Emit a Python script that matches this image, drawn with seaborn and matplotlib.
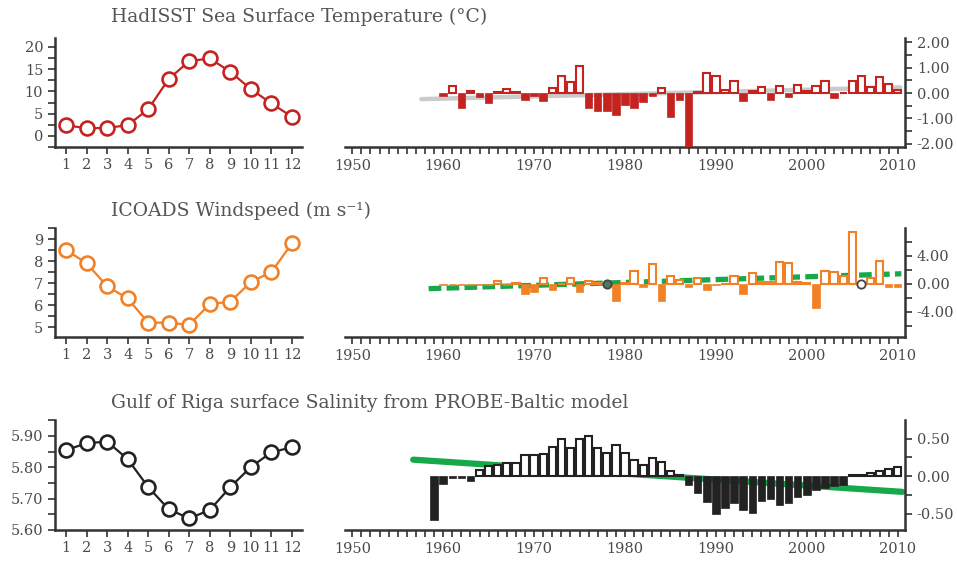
import numpy as np
import seaborn as sns
import matplotlib.pyplot as plt
from matplotlib.ticker import MultipleLocator, FormatStrFormatter, FixedLocator

# monthly climatologies
months = list(range(1, 13))
sst_month = [2.4, 1.7, 1.8, 2.4, 6.0, 12.8, 16.8, 17.4, 14.4, 10.5, 7.3, 4.3]
wind_month = [8.5, 7.9, 6.85, 6.3, 5.2, 5.2, 5.1, 6.05, 6.15, 7.05, 7.5, 8.8]
sal_month = [5.855, 5.877, 5.882, 5.826, 5.737, 5.666, 5.637, 5.664, 5.737, 5.801, 5.848, 5.864]

# yearly anomalies
sst_years = list(range(1960, 2011))
sst_anom = [-0.13, 0.26, -0.57, 0.07, -0.16, -0.40, 0.03, 0.17, 0.03, -0.26,
            -0.10, -0.33, 0.20, 0.68, 0.43, 1.07, -0.57, -0.72, -0.72, -0.86,
            -0.46, -0.57, -0.36, -0.13, 0.20, -0.95, -0.29, -2.20, 0.03, 0.79,
            0.68, 0.13, 0.49, -0.30, 0.09, 0.24, -0.26, 0.29, -0.17, 0.30,
            0.09, 0.29, 0.46, -0.20, 0.01, 0.46, 0.68, 0.24, 0.64, 0.37,
            0.10]
wind_years = list(range(1960, 2011))
wind_anom = [-0.1, -0.2, -0.1, -0.15, -0.1, -0.1, 0.4, -0.15, 0.2, -1.4,
             -1.1, 0.8, -0.9, 0.05, 0.9, -1.1, 0.45, 0.2, np.nan, -2.4,
             0.1, 1.8, -0.5, 2.9, -2.4, 1.2, 0.6, -0.45, 0.9, -0.9,
             -0.2, 0.05, 1.2, -1.4, 1.5, 0.3, 0.3, 3.2, 3.0, 0.3,
             0.2, -3.5, 1.8, 1.7, 1.1, 7.4, np.nan, 0.9, 3.3, -0.4,
             -0.4]
wind_missing = [1978, 2006]
sal_years = list(range(1959, 2011))
sal_anom = [-0.58, -0.10, -0.03, -0.03, -0.06, 0.08, 0.14, 0.15, 0.18, 0.18,
            0.28, 0.28, 0.29, 0.39, 0.50, 0.38, 0.50, 0.53, 0.38, 0.31,
            0.41, 0.31, 0.21, 0.15, 0.24, 0.19, 0.07, 0.01, -0.12, -0.22,
            -0.35, -0.51, -0.43, -0.36, -0.45, -0.49, -0.33, -0.31, -0.38, -0.36,
            -0.28, -0.25, -0.18, -0.16, -0.13, -0.12, 0.01, 0.02, 0.04, 0.07,
            0.09, 0.12]

# trend line end points
sst_trend_x, sst_trend_y = [1957.6, 2010.3], [-0.24, 0.22]
wind_trend_x, wind_trend_y = [1958.4, 2010.4], [-0.68, 1.45]
sal_trend_x, sal_trend_y = [1956.7, 2010.5], [0.22, -0.21]

titles = ["HadISST Sea Surface Temperature (°C)",
          "ICOADS Windspeed (m s⁻¹)",
          "Gulf of Riga surface Salinity from PROBE-Baltic model"]

sns.set_style("ticks")
plt.rcParams['font.family'] = ['DejaVu Serif']
plt.rcParams['axes.unicode_minus'] = False

red = "#c42320"
orange = "#f28025"
black = "#222222"
green = "#17a84b"
txt = "#4a4a4a"
spine = "#333333"

fig = plt.figure(figsize=(9.57, 5.62), dpi=100)
W, H = 957, 562


def box(x0, x1, ytop, ybot):
    return [x0 / W, 1 - ybot / H, (x1 - x0) / W, (ybot - ytop) / H]


def style(ax, sides):
    for s in ["left", "right", "top", "bottom"]:
        ax.spines[s].set_visible(s in sides)
        ax.spines[s].set_color(spine)
        ax.spines[s].set_linewidth(1.8)
    ax.tick_params(which="both", colors=spine, labelcolor=txt, labelsize=10.5,
                   width=1.2, length=5, direction="out")
    ax.set_xlabel("")
    ax.set_ylabel("")


def left_panel(ax, vals, c, ylim, major, minor, fmt):
    sns.lineplot(x=months, y=vals, ax=ax, color=c, linewidth=1.6, marker="o",
                 markersize=10, markerfacecolor="white", markeredgecolor=c,
                 markeredgewidth=1.9)
    ax.set_xlim(0.46, 12.49)
    ax.set_ylim(*ylim)
    ax.set_xticks(months)
    ax.yaxis.set_major_locator(MultipleLocator(major))
    ax.yaxis.set_minor_locator(MultipleLocator(minor))
    ax.yaxis.set_major_formatter(FormatStrFormatter(fmt))
    style(ax, ["left", "bottom"])
    ax.tick_params(axis="x", pad=3)


def right_panel(ax, years, vals, c, ylim, majors, minors):
    years = np.array(years)
    vals = np.array(vals, dtype=float)
    pos = vals >= 0
    neg = vals < 0
    sns.barplot(x=years[pos], y=vals[pos], native_scale=True, ax=ax,
                color="white", edgecolor=c, linewidth=1.5, saturation=1,
                width=0.8, errorbar=None, zorder=3)
    sns.barplot(x=years[neg], y=vals[neg], native_scale=True, ax=ax,
                color=c, edgecolor=c, linewidth=0.5, saturation=1,
                width=0.82, errorbar=None, zorder=3)
    ax.set_xlim(1949.2, 2010.8)
    ax.set_ylim(*ylim)
    ax.yaxis.tick_right()
    ax.xaxis.set_major_locator(FixedLocator(range(1950, 2011, 10)))
    ax.xaxis.set_minor_locator(MultipleLocator(1))
    ax.xaxis.set_major_formatter(FormatStrFormatter("%d"))
    ax.yaxis.set_major_locator(FixedLocator(majors))
    ax.yaxis.set_minor_locator(FixedLocator(minors))
    ax.yaxis.set_major_formatter(FormatStrFormatter("%.2f"))
    style(ax, ["right", "bottom"])


# row 1: SST
ax = fig.add_axes(box(55, 302, 38, 147))
left_panel(ax, sst_month, red, (-2.5, 22), 5, 2.5, "%d")
ax = fig.add_axes(box(345, 905, 38, 147))
sns.lineplot(x=sst_trend_x, y=sst_trend_y, ax=ax, color="#cbcbcb", linewidth=3.2, zorder=2)
right_panel(ax, sst_years, sst_anom, red, (-2.12, 2.16),
            [-2, -1, 0, 1, 2], [-1.5, -0.5, 0.5, 1.5])

# row 2: wind
ax = fig.add_axes(box(55, 302, 228, 337))
left_panel(ax, wind_month, orange, (4.55, 9.5), 1, 0.5, "%d")
ax = fig.add_axes(box(345, 905, 228, 337))
sns.lineplot(x=wind_trend_x, y=wind_trend_y, ax=ax, color=green, linewidth=3.8,
             zorder=2).lines[0].set_dashes((2.4, 1.0))
right_panel(ax, wind_years, wind_anom, orange, (-7.6, 8.0),
            [-4, 0, 4], [-6, -2, 2, 6])
ax.plot(wind_missing[:1], [0], "o", ms=6, mfc="#4d7a5a", mec="#444444", mew=1.3, zorder=5)
ax.plot(wind_missing[1:], [0], "o", ms=6, mfc="white", mec="#444444", mew=1.3, zorder=5)

# row 3: salinity
ax = fig.add_axes(box(55, 302, 420, 530))
left_panel(ax, sal_month, black, (5.60, 5.951), 0.1, 0.05, "%.2f")
ax = fig.add_axes(box(345, 905, 420, 530))
sns.lineplot(x=sal_trend_x, y=sal_trend_y, ax=ax, color=green, linewidth=4.5, zorder=2)
right_panel(ax, sal_years, sal_anom, black, (-0.72, 0.75),
            [-0.5, 0, 0.5], [-0.25, 0.25])

for t, y in zip(titles, [17, 211, 403]):
    fig.text(111 / W, 1 - y / H, t, fontsize=13.5, color="#555555",
             ha="left", va="center")

fig.savefig("out.png", dpi=100)
